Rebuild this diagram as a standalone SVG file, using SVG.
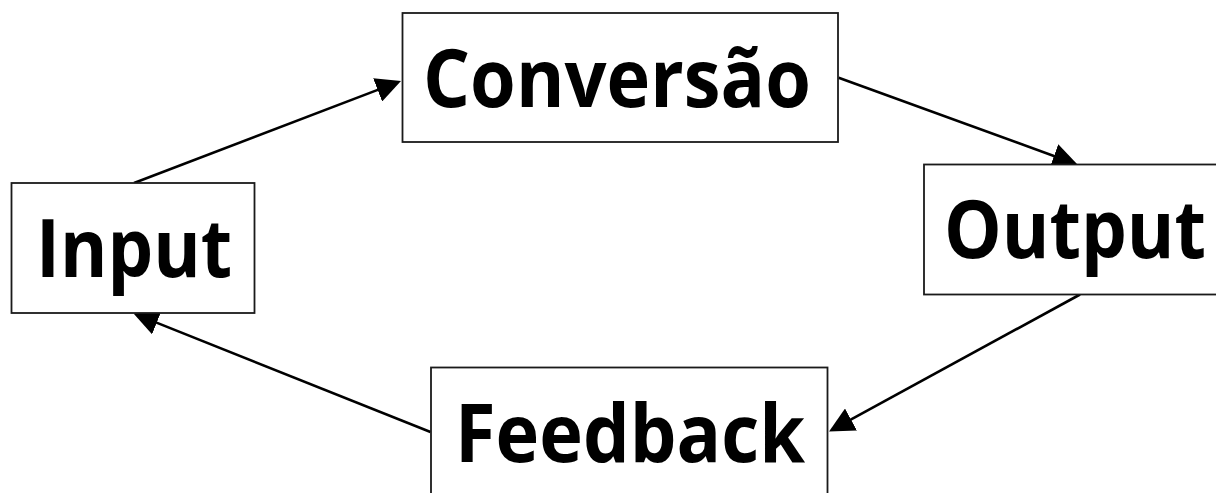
<svg xmlns="http://www.w3.org/2000/svg" width="1216" height="493" viewBox="0 0 1216 493">
  <style>
    .box { fill: #ffffff; stroke: #1a1a1a; stroke-width: 1.8; }
    .lbl { font-family: "Open Sans", "Noto Sans", "Liberation Sans", sans-serif; font-weight: 700; font-size: 80px; fill: #000000; text-anchor: middle; }
    .edge { stroke: #000000; stroke-width: 2.6; fill: none; marker-end: url(#arrow); }
  </style>
  <defs>
    <marker id="arrow" markerUnits="userSpaceOnUse" markerWidth="25" markerHeight="25" refX="5" refY="12.5" orient="auto" viewBox="0 0 25 25">
      <path d="M0,0 L25,12.5 L0,25 z" fill="#000000"/>
    </marker>
  </defs>
  <rect width="1216" height="493" fill="#ffffff"/>

  <g id="connectors">
    <line class="edge" x1="134" y1="183" x2="382.3" y2="88.1"/>
    <line class="edge" x1="838.7" y1="77.7" x2="1058.7" y2="157.7"/>
    <line class="edge" x1="1080" y1="294.5" x2="846.6" y2="421.9"/>
    <line class="edge" x1="430.5" y1="432" x2="152.1" y2="320.9"/>
  </g>

  <g id="node-conversao">
    <rect class="box" x="402.5" y="13" width="435.5" height="129"/>
    <text class="lbl" x="617" y="107" textLength="388" lengthAdjust="spacingAndGlyphs">Conversão</text>
  </g>

  <g id="node-input">
    <rect class="box" x="11.5" y="183" width="243" height="130"/>
    <text class="lbl" x="134" y="277" textLength="196" lengthAdjust="spacingAndGlyphs">Input</text>
  </g>

  <g id="node-output">
    <rect class="box" x="924" y="164.5" width="330" height="130"/>
    <text class="lbl" x="1075" y="258" textLength="262" lengthAdjust="spacingAndGlyphs">Output</text>
  </g>

  <g id="node-feedback">
    <rect class="box" x="431" y="367.5" width="396.5" height="140"/>
    <text class="lbl" x="630" y="462" textLength="350" lengthAdjust="spacingAndGlyphs">Feedback</text>
  </g>
</svg>
